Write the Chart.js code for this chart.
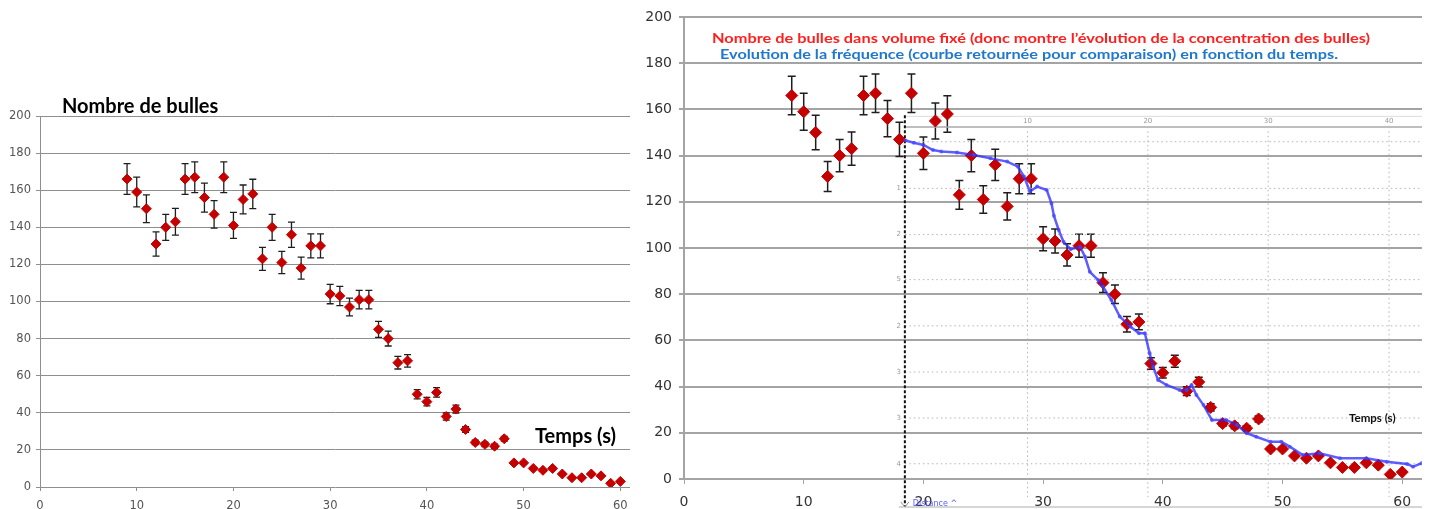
<!DOCTYPE html>
<html>
<head>
<meta charset="utf-8">
<script src="https://cdn.jsdelivr.net/npm/chart.js@4"></script>
<style>
  body { margin:0; background:#fff; width:1429px; height:509px; overflow:hidden; position:relative; }
  #left { position:absolute; left:0; top:0; }
  #right { position:absolute; left:640px; top:0; }
</style>
</head>
<body>
<canvas id="left" width="640" height="509"></canvas>
<canvas id="right" width="789" height="509"></canvas>
<script>
// bubble counts (time in s)
const times = [9,10,11,12,13,14,15,16,17,18,19,20,21,22,23,24,25,26,27,28,29,30,31,32,33,34,
  35,36,37,38,39,40,41,42,43,44,45,46,47,48,49,50,51,52,53,54,55,56,57,58,59,60];
const bubbles = [166,159,150,131,140,143,166,167,156,147,167,141,155,158,123,140,121,136,118,130,130,104,
  103,97,101,101,85,80,67,68,50,46,51,38,42,31,24,23,22,26,13,13,10,9,10,7,5,5,7,6,2,3];
const bubbleErr = [8.3,8,7.5,6.5,7,7.2,8.3,8.3,7.8,7.4,8.3,7,7.8,7.9,6.2,7,6,6.8,5.9,6.5,6.5,5.2,
  5.2,4.8,5,5,4.3,4,3.4,3.4,2.5,2.3,2.6,1.9,2.1,1.6,1.2,1.2,1.1,1.3,0.7,0.7,0.5,0.5,0.5,0.4,0.3,0.3,0.4,0.3,0.1,0.2];

// frequency curve (flipped)
const freqTime = [18.5,19.2,20.0,20.8,21.5,22.8,24.2,25.6,27.0,27.9,28.4,28.9,29.5,30.3,30.7,30.9,31.3,31.7,
  32.3,33.1,33.5,33.9,34.6,35.0,35.7,36.4,37.3,38.0,38.5,38.9,39.2,39.6,40.3,41.4,42.0,42.4,42.8,43.4,44.1,
  45.3,46.2,47.0,47.8,49.0,49.9,50.6,51.7,53.1,54.8,57.0,58.7,60.4,60.9,61.6];
const freqCurve = [146.5,145.6,144.6,142.4,141.8,141.3,140.3,138.8,137.4,135.2,130.9,124.4,126.6,125.1,119.3,114.0,107.8,102.7,
  99.5,100.4,96.2,89.7,86.1,83.2,77.5,70.3,65.9,63.1,63.1,54.4,48.5,42.9,40.7,38.5,38.5,40.7,36.4,32.0,25.5,
  25.5,23.4,19.8,18.3,16.1,16.1,14.0,10.4,11.1,9.0,9.0,7.5,6.5,5.3,6.8];

const xTicks = [0,10,20,30,40,50,60];
const yTicks = [0,20,40,60,80,100,120,140,160,180,200];
const overlayXTicks = ['10','20','30','40'];
const overlayYTicks = ['1','2','5','2','3','3','4'];

const redText = 'Nombre de bulles dans volume fixé (donc montre l\u2019évolution de la concentration des bulles)';
const blueText = 'Evolution de la fréquence (courbe retournée pour comparaison) en fonction du temps.';

function errorBars(cap, width){
  return {
    id: 'errorBars',
    beforeDatasetsDraw(chart){
      const {ctx, scales:{x, y}} = chart;
      ctx.save();
      ctx.strokeStyle = '#1e1e1e';
      ctx.lineWidth = width;
      times.forEach((t, i) => {
        const px = x.getPixelForValue(t);
        const top = y.getPixelForValue(bubbles[i] + bubbleErr[i]);
        const bot = y.getPixelForValue(bubbles[i] - bubbleErr[i]);
        ctx.beginPath();
        ctx.moveTo(px, top); ctx.lineTo(px, bot);
        ctx.moveTo(px - cap, top); ctx.lineTo(px + cap, top);
        ctx.moveTo(px - cap, bot); ctx.lineTo(px + cap, bot);
        ctx.stroke();
      });
      ctx.restore();
    }
  };
}

function axes(o){
  return {
    x: {
      type: 'linear', min: 0, max: o.xMax,
      afterBuildTicks: s => { s.ticks = xTicks.map(v => ({value: v})); },
      afterFit: s => { s.height = o.xH; },
      grid: { drawOnChartArea: false, tickLength: o.tick, color: o.grid, lineWidth: 1 },
      border: { display: false },
      ticks: { color: o.txt, font: { family: 'DejaVu Sans', size: o.fs }, padding: o.xPad, maxRotation: 0 }
    },
    y: {
      min: 0, max: 200,
      afterBuildTicks: s => { s.ticks = yTicks.map(v => ({value: v})); },
      afterFit: s => { s.width = o.yW; },
      grid: { color: o.grid, lineWidth: o.gw, tickLength: o.tick },
      border: { display: true, color: o.grid, width: o.gw },
      ticks: { color: o.txt, font: { family: 'DejaVu Sans', size: o.fs }, padding: o.yPad }
    }
  };
}

// stretched text, the source picture is a widened screenshot
function wideText(ctx, text, left, base, width){
  const w = ctx.measureText(text).width;
  ctx.save();
  ctx.translate(left, base);
  ctx.scale(width / w, 1);
  ctx.textAlign = 'left';
  ctx.fillText(text, 0, 0);
  ctx.restore();
}

const points = times.map((t, i) => ({x: t, y: bubbles[i]}));

// left chart
new Chart(document.getElementById('left'), {
  type: 'scatter',
  data: { datasets: [{
    data: points, pointStyle: 'rectRot', pointRadius: 5,
    backgroundColor: '#c40000', borderColor: '#c40000', borderWidth: 1
  }]},
  options: {
    responsive: false, animation: false,
    layout: { padding: { top: 116, right: 10, left: 0, bottom: 0 } },
    plugins: { legend: { display: false }, tooltip: { enabled: false } },
    scales: axes({ xMax: 61, xH: 22, yW: 40, tick: 4, grid: '#8e8e8e', gw: 1, txt: '#555', fs: 11.5, xPad: 8, yPad: 5 })
  },
  plugins: [errorBars(3.5, 1.3), {
    id: 'leftText',
    afterDraw(chart){
      const ctx = chart.ctx;
      ctx.save();
      ctx.fillStyle = '#000';
      ctx.font = 'bold 20px Lato';
      ctx.textBaseline = 'alphabetic';
      ctx.fillText('Nombre de bulles', 62, 113);
      ctx.fillText('Temps (s)', 535, 443);
      ctx.restore();
    }
  }]
});

// right chart
new Chart(document.getElementById('right'), {
  type: 'scatter',
  data: { datasets: [
    {
      data: freqTime.map((t, i) => ({x: t, y: freqCurve[i]})),
      showLine: true, borderColor: 'rgba(40,40,255,0.75)', borderWidth: 2.5,
      pointRadius: 2, pointBackgroundColor: 'rgba(70,70,255,0.7)', pointBorderWidth: 0, order: 0
    },
    {
      data: points, pointStyle: 'rectRot', pointRadius: 6,
      backgroundColor: '#c40000', borderColor: '#c40000', borderWidth: 1, order: 1
    }
  ]},
  options: {
    responsive: false, animation: false,
    layout: { padding: { top: 17, right: 7, left: 0, bottom: 0 } },
    plugins: { legend: { display: false }, tooltip: { enabled: false } },
    scales: axes({ xMax: 61.65, xH: 30, yW: 44, tick: 5, grid: '#a4a4a4', gw: 2, txt: '#333', fs: 14, xPad: 10, yPad: 7 })
  },
  plugins: [errorBars(4, 1.5), {
    id: 'overlay',
    beforeDatasetsDraw(chart){
      const {ctx, scales:{x, y}, chartArea} = chart;
      const x0 = x.getPixelForValue(18.45);
      const x1 = chartArea.right;
      ctx.save();
      // frame of the pasted screenshot
      ctx.strokeStyle = '#dcdcdc'; ctx.lineWidth = 1;
      ctx.beginPath(); ctx.moveTo(x0, y.getPixelForValue(157)); ctx.lineTo(x1, y.getPixelForValue(157)); ctx.stroke();
      ctx.strokeStyle = '#a8a8a8'; ctx.lineWidth = 1.5;
      ctx.beginPath(); ctx.moveTo(x0, y.getPixelForValue(152.4)); ctx.lineTo(x1, y.getPixelForValue(152.4)); ctx.stroke();
      ctx.strokeStyle = '#c8c8c8'; ctx.lineWidth = 1.5;
      ctx.beginPath(); ctx.moveTo(x0 - 6, chart.height - 2); ctx.lineTo(x1, chart.height - 2); ctx.stroke();
      // dotted grid
      ctx.strokeStyle = '#b4b4b4'; ctx.lineWidth = 1; ctx.setLineDash([1.5, 3]);
      [146, 125.8, 105.8, 86.3, 66.3, 46.3, 26.4, 6.6].forEach(v => {
        const py = y.getPixelForValue(v);
        ctx.beginPath(); ctx.moveTo(x0, py); ctx.lineTo(x1, py); ctx.stroke();
      });
      [28.7, 38.75, 48.8, 58.9].forEach(v => {
        const px = x.getPixelForValue(v);
        ctx.beginPath(); ctx.moveTo(px, y.getPixelForValue(150.5)); ctx.lineTo(px, chart.height - 12); ctx.stroke();
      });
      ctx.setLineDash([]);
      // tiny labels of the screenshot
      ctx.fillStyle = '#9a9a9a'; ctx.font = '7px DejaVu Sans';
      ctx.textAlign = 'center'; ctx.textBaseline = 'middle';
      overlayXTicks.forEach((s, i) => ctx.fillText(s, x.getPixelForValue([28.7, 38.75, 48.8, 58.9][i]), y.getPixelForValue(154.7)));
      ctx.textAlign = 'right';
      overlayYTicks.forEach((s, i) => ctx.fillText(s, x0 - 4, y.getPixelForValue([125.8, 105.8, 86.3, 66.3, 46.3, 26.4, 6.6][i])));
      // dashed vertical marker
      ctx.strokeStyle = '#111'; ctx.lineWidth = 2; ctx.setLineDash([3, 2]);
      ctx.beginPath(); ctx.moveTo(x0, y.getPixelForValue(157.5)); ctx.lineTo(x0, chart.height - 3); ctx.stroke();
      ctx.setLineDash([]);
      ctx.strokeStyle = '#888'; ctx.lineWidth = 1;
      ctx.beginPath(); ctx.moveTo(x0 - 4, chart.height - 7); ctx.lineTo(x0, chart.height - 2); ctx.lineTo(x0 + 4, chart.height - 7); ctx.stroke();
      ctx.fillStyle = '#5a5aff'; ctx.font = '8px DejaVu Sans'; ctx.textAlign = 'left';
      ctx.fillText('Distance ^', x0 + 8, chart.height - 5);
      ctx.restore();
    },
    afterDraw(chart){
      const ctx = chart.ctx;
      ctx.save();
      ctx.textBaseline = 'alphabetic';
      ctx.font = 'bold 14px Lato';
      ctx.fillStyle = '#ff1f1f';
      wideText(ctx, redText, 72, 43, 658);
      ctx.fillStyle = '#1f78cc';
      wideText(ctx, blueText, 80, 59, 618);
      ctx.fillStyle = '#111';
      ctx.font = 'bold 11.5px Lato';
      ctx.textAlign = 'left';
      ctx.fillText('Temps (s)', 709, 422);
      ctx.restore();
    }
  }]
});
</script>
</body>
</html>
